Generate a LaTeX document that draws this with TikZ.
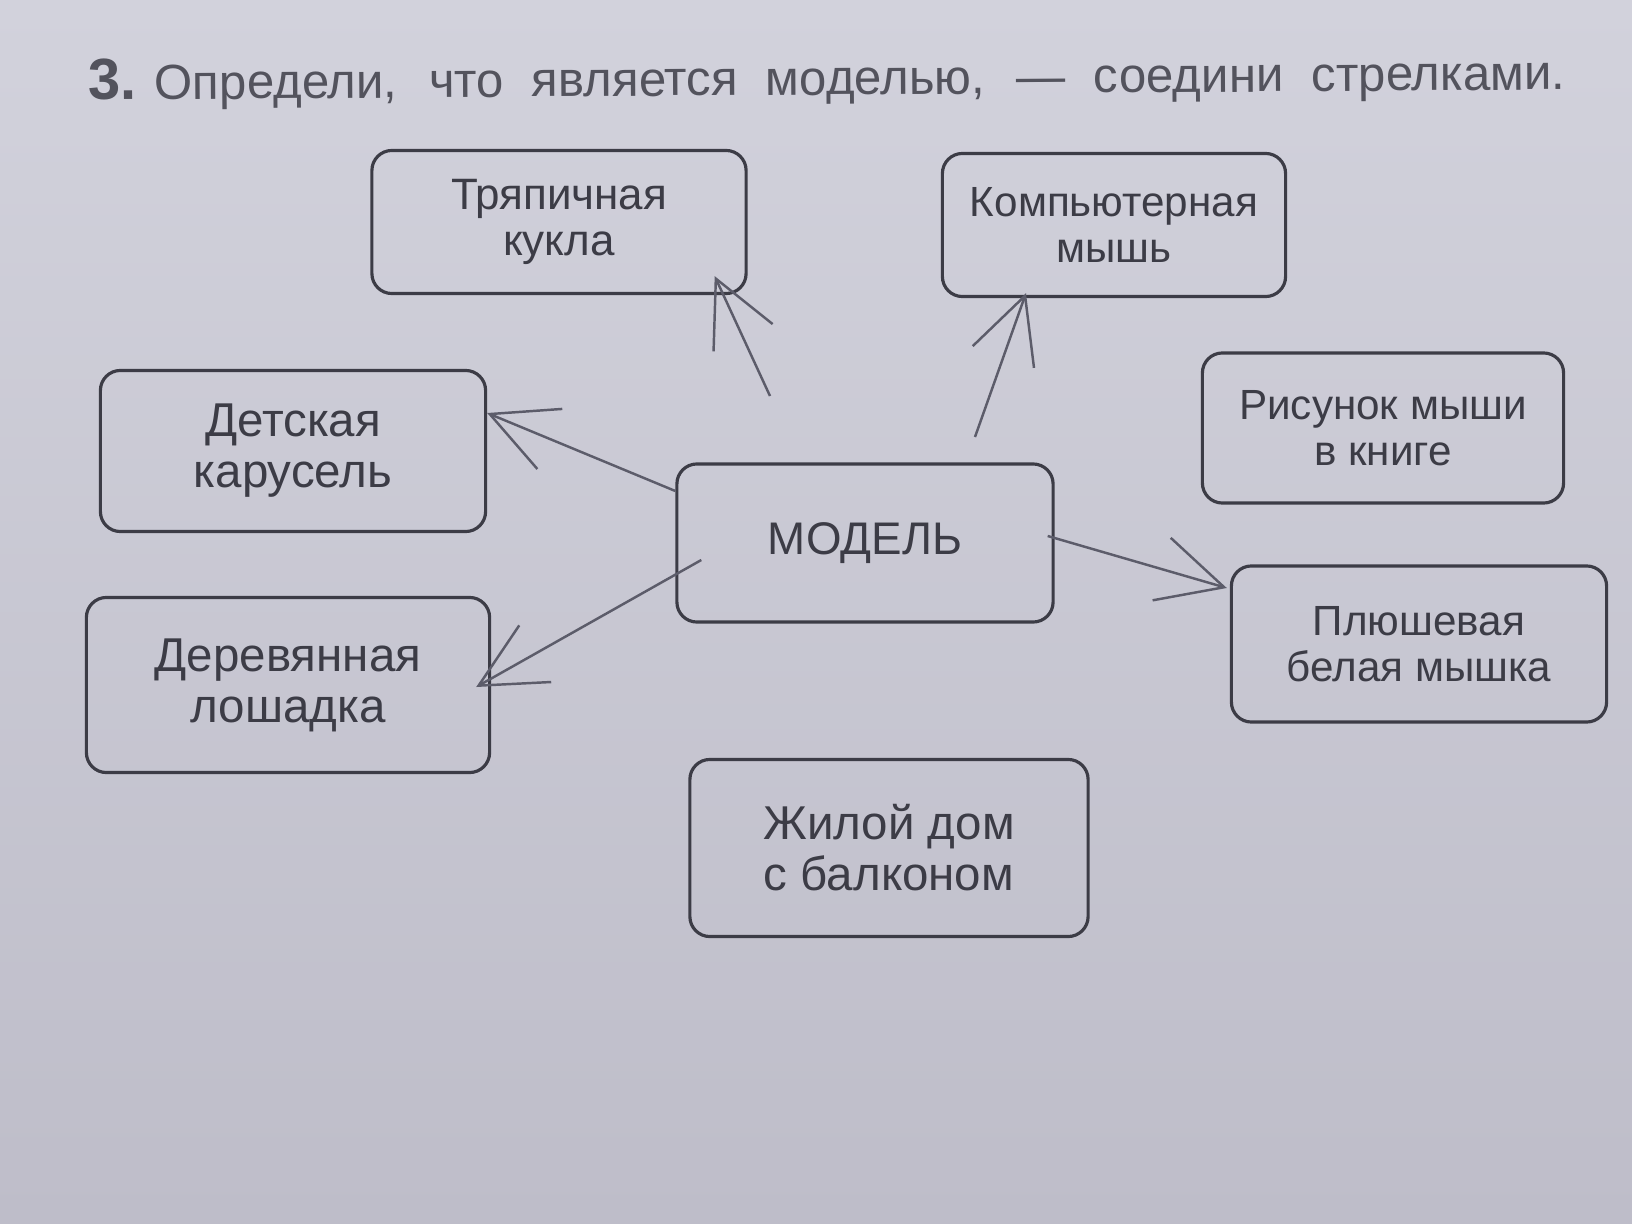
\documentclass[tikz,border=0pt]{standalone}
\usepackage{fontspec}
\setmainfont{Liberation Sans}
\usetikzlibrary{arrows.meta,calc}

\definecolor{paperTop}{RGB}{210,210,220}
\definecolor{paperBot}{RGB}{190,189,201}
\definecolor{inkgray}{RGB}{60,60,70}
\definecolor{pencilgray}{RGB}{92,92,106}

\begin{document}
\begin{tikzpicture}[x=0.01cm,y=-0.01cm,
    card/.style={draw=inkgray,line width=0.9pt,rounded corners=0.2cm,align=center,
      text=inkgray,inner sep=0pt,font=\fontsize{12.5}{13.2}\selectfont},
    nearcard/.style={card,font=\fontsize{13.5}{14.5}\selectfont},
    farcard/.style={card,font=\fontsize{12}{13}\selectfont},
    pencil/.style={draw=pencilgray,line width=0.7pt,
      -{Straight Barb[length=0.65cm,width=0.65cm]}}]

    % paper
    \shade[top color=paperTop,bottom color=paperBot] (0,0) rectangle (1632,1224);

    % task text
    \node[rotate=0.4,anchor=base west,text=inkgray!85!paperTop,inner sep=0pt] (task) at (88,100)
      {\makebox[420pt][s]{\fontsize{14}{17}\selectfont{\fontsize{16.5}{17}\selectfont\textbf{3.}}\kern5pt Определи, что является моделью, — соедини стрелками.}};

    % boxes
    \node[card,minimum width=3.74cm,minimum height=1.43cm] (doll) at (559,222) {Тряпичная\\кукла};
    \node[farcard,minimum width=3.43cm,minimum height=1.43cm] (mouse) at (1114,225) {Компьютерная\\мышь};
    \node[nearcard,minimum width=3.85cm,minimum height=1.61cm] (carousel) at (293,451) {Детская\\карусель};
    \node[farcard,minimum width=3.61cm,minimum height=1.5cm] (drawing) at (1383,428) {Рисунок мыши\\в книге};
    \node[card,minimum width=3.76cm,minimum height=1.58cm,font=\fontsize{13}{14}\selectfont] (model) at (865,543) {МОДЕЛЬ};
    \node[nearcard,minimum width=4.03cm,minimum height=1.75cm] (horse) at (288,685) {Деревянная\\лошадка};
    \node[farcard,minimum width=3.75cm,minimum height=1.56cm] (plush) at (1419,644) {Плюшевая\\белая мышка};
    \node[nearcard,minimum width=3.98cm,minimum height=1.77cm] (house) at (889,848) {Жилой дом\\с балконом};

    % pencil arrows
    \coordinate (dollstart) at (770,396);
    \coordinate (mousestart) at (975,437);
    \draw[pencil] (dollstart) -- ($(doll.south east)+(-33,-19)$);
    \draw[pencil] (mousestart) -- ($(mouse.south)+(-88,-5)$);
    \draw[pencil] ($(model.west)+(0,-52)$) -- ($(carousel.east)+(0,-38)$);
    \draw[pencil] ($(model.west)+(26,17)$) -- ($(horse.east)+(-15,2)$);
    \draw[pencil] ($(model.east)+(-7,-7)$) -- ($(plush.west)+(-3,-56)$);

\end{tikzpicture}
\end{document}
